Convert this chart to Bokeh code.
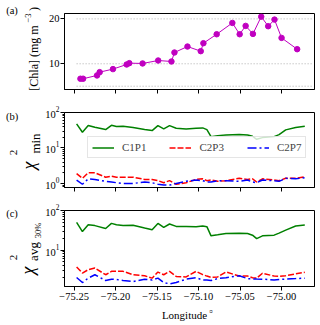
import math
from bokeh.plotting import figure
from bokeh.layouts import column, row
from bokeh.models import (Range1d, FixedTicker, Legend, LegendItem,
                          CustomJSTickFormatter)
from bokeh.core.properties import value
from bokeh.embed import file_html
from bokeh.resources import INLINE

FONT = "Liberation Serif"

# ---------------- data ----------------
lon_chla = [-75.2424, -75.2392, -75.2224, -75.2192, -75.2032, -75.1867, -75.1835,
            -75.1675, -75.1487, -75.1327, -75.1291, -75.1134, -75.0974, -75.0942,
            -75.0782, -75.0593, -75.0505, -75.0433, -75.0345, -75.0245, -75.0161,
            -75.0085, -75.0000, -74.9812]
chla = [6.67, 6.67, 7.4, 8.14, 8.81, 9.84, 10.14, 10.07, 10.73, 10.51, 12.51, 13.84,
        12.81, 14.58, 16.58, 19.1, 16.58, 18.44, 16.66, 20.5, 18.37, 19.84, 15.77, 13.25]

lon_chi = [-75.247, -75.240, -75.233, -75.225, -75.212, -75.205, -75.199, -75.191,
           -75.179, -75.165, -75.156, -75.149, -75.142, -75.135, -75.127, -75.115,
           -75.103, -75.095, -75.090, -75.085, -75.077, -75.067, -75.051, -75.041,
           -75.035, -75.030, -75.023, -75.009, -75.003, -74.995, -74.983, -74.972]

min_c1p1 = [47.8, 27.7, 42.8, 38.3, 33.0, 43.6, 40.1, 40.9, 37.6, 33.0, 30.9, 42.8,
            34.5, 42.8, 35.9, 34.5, 35.9, 36.8, 33.0, 20.9, 22.3, 23.3, 23.8, 23.3,
            21.4, 17.6, 19.6, 20.9, 23.8, 32.4, 37.6, 40.9]
min_c2p3 = [1.9, 1.4, 2.0, 2.0, 1.5, 1.6, 1.5, 1.5, 1.5, 1.3, 1.3, 1.2, 1.05, 1.2,
            0.95, 1.05, 1.3, 1.35, 1.2, 1.25, 1.15, 1.2, 1.4, 1.3, 1.35, 1.1, 1.35,
            1.25, 1.2, 1.4, 1.4, 1.55]
min_c2p7 = [1.25, 0.95, 1.35, 1.3, 1.15, 1.1, 1.05, 1.0, 1.0, 1.1, 1.05, 0.95, 0.9,
            0.9, 1.0, 1.15, 1.25, 1.2, 1.1, 1.1, 1.2, 1.2, 1.15, 1.25, 1.1, 1.05,
            1.25, 1.2, 1.15, 1.4, 1.35, 1.45]

avg_c1p1 = [50.0, 29.4, 43.8, 41.5, 35.2, 47.2, 43.5, 42.0, 42.5, 36.0, 32.6, 47.2,
            37.3, 45.6, 39.6, 39.6, 39.0, 40.5, 39.0, 22.9, 24.3, 26.2, 26.8, 26.2,
            23.8, 19.5, 22.9, 23.8, 26.8, 32.0, 40.5, 43.0]
avg_c2p3 = [3.73, 2.62, 3.2, 3.52, 2.38, 2.9, 2.9, 2.9, 2.38, 2.24, 1.95, 2.78, 2.38,
            2.9, 2.16, 2.1, 2.9, 2.4, 2.2, 2.05, 2.1, 2.8, 2.2, 2.2, 2.0, 1.95, 2.6,
            2.2, 2.16, 2.25, 2.5, 2.75]
avg_c2p7 = [2.03, 1.51, 1.95, 2.38, 1.70, 1.84, 1.8, 1.70, 1.6, 1.84, 1.75, 1.95,
            1.51, 1.40, 1.51, 1.84, 2.0, 1.75, 1.75, 1.70, 1.9, 2.0, 2.24, 1.9, 1.87,
            1.85, 1.84, 1.75, 1.8, 1.85, 1.9, 1.95]

series_names = ["C1P1", "C2P3", "C2P7"]
x_ticks = [-75.25, -75.20, -75.15, -75.10, -75.05, -75.00]
chla_ticks = [10, 20]
chla_guides = [5, 10, 20]
guide_x = [-75.247, -74.963]
log_major = [1, 10, 100]
log_minor = [0.8, 0.9, 2, 3, 4, 5, 6, 7, 8, 9, 20, 30, 40, 50, 60, 70, 80, 90]

X_LO, X_HI = -75.2616, -74.9603
STRIP_W = 42
MAIN_W = 320 - STRIP_W

styles = [dict(color="#008000", dash="solid"),
          dict(color="#ff0000", dash="6 2"),
          dict(color="#0000ff", dash="9 3 2 3")]


def make_fig(height, top, bottom, yr, log=False, show_xlabels=False):
    p = figure(width=MAIN_W, height=height, output_backend="svg", toolbar_location=None,
               x_range=Range1d(X_LO, X_HI), y_range=Range1d(yr[0], yr[1]),
               y_axis_type=("log" if log else "linear"),
               min_border_left=21, min_border_right=6,
               min_border_top=top, min_border_bottom=bottom)
    p.xgrid.visible = False
    p.ygrid.visible = False
    p.outline_line_color = "black"
    p.outline_line_alpha = 1
    p.outline_line_width = 1
    p.background_fill_color = "white"
    p.border_fill_color = "white"
    for ax in (p.xaxis[0], p.yaxis[0]):
        ax.axis_line_color = "black"
        ax.major_tick_line_color = "black"
        ax.minor_tick_line_color = "black"
        ax.major_tick_out = 4
        ax.major_tick_in = 0
        ax.minor_tick_out = 2
        ax.minor_tick_in = 0
        ax.major_label_text_font = FONT
        ax.major_label_text_font_size = "10.5px"
        ax.major_label_text_color = "black"
        ax.major_label_standoff = 1
    p.xaxis.ticker = FixedTicker(ticks=x_ticks)
    p.xaxis.minor_tick_line_color = None
    if show_xlabels:
        p.xaxis.major_label_standoff = 2
        p.xaxis.formatter = CustomJSTickFormatter(
            code="return (tick < 0 ? '\\u2212' : '') + Math.abs(tick).toFixed(2);")
    else:
        p.xaxis.formatter = CustomJSTickFormatter(code="return '';")
        p.xaxis.major_label_text_font_size = "1px"
        p.xaxis.major_label_standoff = 0
    if log:
        p.yaxis.ticker = FixedTicker(ticks=log_major, minor_ticks=log_minor)
    return p


def text_fig(width, height, x0, y0):
    # a blank canvas whose data units are picture pixels (y grows downward)
    f = figure(width=width, height=height, output_backend="svg", toolbar_location=None,
               x_range=Range1d(x0, x0 + width), y_range=Range1d(y0 + height, y0),
               min_border=0, x_axis_location=None, y_axis_location=None)
    f.xgrid.visible = False
    f.ygrid.visible = False
    f.outline_line_color = None
    f.background_fill_color = "white"
    f.border_fill_color = "white"
    return f


def txt(f, s, x, y, size, angle=0.0, style="normal"):
    f.text(x=[x], y=[y], text=[s], angle=angle, text_font=value(FONT),
           text_font_size=value(size), text_font_style=style, text_color="black",
           text_align="center", text_baseline="middle")


# ---------------- panel (a) ----------------
pa = make_fig(100, 13, 11, (4.27, 21.2))
pa.yaxis.ticker = FixedTicker(ticks=chla_ticks)
pa.yaxis.minor_tick_line_color = None
pa.segment(x0=[guide_x[0]] * len(chla_guides), x1=[guide_x[1]] * len(chla_guides),
           y0=chla_guides, y1=chla_guides, line_color="#999999", line_width=0.8,
           line_dash="1 2")
pa.line(lon_chla, chla, line_color="#c000c0", line_width=1)
pa.scatter(lon_chla, chla, size=5.5, fill_color="#c000c0", line_color="#c000c0")

# ---------------- panel (b) ----------------
pb = make_fig(100, 12, 13, (0.77, 100), log=True)
rb = []
for ys, st in zip([min_c1p1, min_c2p3, min_c2p7], styles):
    rb.append(pb.line(lon_chi, ys, line_color=st["color"], line_width=1.5,
                      line_dash=st["dash"]))
leg = Legend(items=[LegendItem(label=n, renderers=[r]) for n, r in zip(series_names, rb)],
             location=(23, 29), orientation="horizontal",
             label_text_font=FONT, label_text_font_size="11px",
             label_height=11, glyph_height=11, glyph_width=22, label_standoff=8,
             spacing=23, padding=4, margin=0,
             border_line_color="#cccccc", border_line_width=1,
             background_fill_color="white", background_fill_alpha=0.8)
pb.add_layout(leg)

# ---------------- panel (c) ----------------
pc = make_fig(104, 10, 18, (1.2, 100), log=True, show_xlabels=True)
for ys, st in zip([avg_c1p1, avg_c2p3, avg_c2p7], styles):
    pc.line(lon_chi, ys, line_color=st["color"], line_width=1.5, line_dash=st["dash"])

# ---------------- left label strip (picture coords) ----------------
lf = text_fig(STRIP_W, 304, 0, 0)
R = math.pi / 2
txt(lf, "(a)", 11.5, 10, "10.5px")
txt(lf, "[Chla] (mg m", 33, 57.5, "12px", angle=R)
txt(lf, "\u22123", 27.5, 17.5, "8.5px", angle=R)
txt(lf, ")", 33, 8.5, "12px", angle=R)
txt(lf, "(b)", 11.5, 116, "10.5px")
txt(lf, "\u03c7", 28, 165, "18px", angle=R, style="italic")
txt(lf, "2", 12.5, 152, "11px", angle=R)
txt(lf, "min", 34.5, 143, "13px", angle=R)
txt(lf, "(c)", 11.5, 212.5, "10.5px")
txt(lf, "\u03c7", 27.5, 270, "18px", angle=R, style="italic")
txt(lf, "2", 12.5, 257, "11px", angle=R)
txt(lf, "avg", 33, 251, "13px", angle=R)
txt(lf, "30%", 37, 230, "8.5px", angle=R)

# ---------------- bottom label strip ----------------
bf = text_fig(320, 21, 0, 304)
txt(bf, "Longitude", 184, 314, "11px")
txt(bf, "\u00a4", 210.5, 311, "7px")

layout = column(row(lf, column(pa, pb, pc)), bf)
open("out.html", "w").write(file_html(layout, INLINE))
